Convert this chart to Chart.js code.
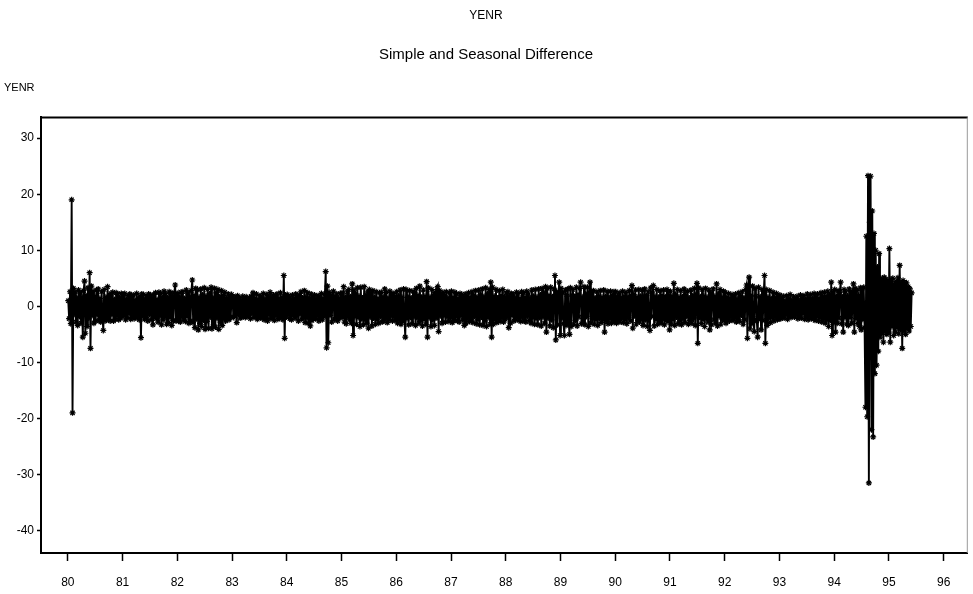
<!DOCTYPE html>
<html>
<head>
<meta charset="utf-8">
<title>YENR</title>
<script src="https://cdn.jsdelivr.net/npm/chart.js@4"></script>
<style>
  html, body { margin: 0; padding: 0; background: #fff; }
  canvas { display: block; }
</style>
</head>
<body>
<canvas id="chart" width="973" height="594"></canvas>
<script>
// labels
const titleText = 'YENR';
const subtitleText = 'Simple and Seasonal Difference';
const yAxisLabel = 'YENR';

// tick labels
const yearTicks = [80, 81, 82, 83, 84, 85, 86, 87, 88, 89, 90, 91, 92, 93, 94, 95, 96];
const valueTicks = [-40, -30, -20, -10, 0, 10, 20, 30];

const y1980 = [1.0, -2.2, 2.6, -3.1, 19.0, -19.0, 3.2, -1.4, 2.6, -2.8, 1.5, -3.4, 2.9, -1.8, 2.4, -3.0,
  1.7, -5.5, 2.8, 4.5, -4.8, 1.9, -3.6, 3.3, -2.1, 6.0, -7.5, 3.6, -1.6, 2.7, -3.0, 1.8,
  -2.6, 2.9, -1.5, 3.1, -2.5, 1.4, -2.8, 2.6, -1.9, -4.3, 3.0, -2.6, 1.6, -2.2, 3.5, -2.4,
  1.9, -2.6, 2.3, -1.5, 2.5, -2.6, 1.2, -2.3, 2.4, -1.7, 2.2, -2.4, 1.5, -2.1, 2.3, -1.8];
const y1981 = [2.1, -1.5, 2.3, -2.4, 1.2, -2.0, 1.9, -1.3, 2.2, -2.3, 1.6, -1.8, 2.0, -2.2, 1.1, -1.9,
  2.3, -2.0, 1.4, -2.4, 1.8, -5.6, 2.2, -1.6, 2.1, -2.3, 1.3, -2.0, 1.9, -2.6, 2.2, -1.4,
  2.0, -2.4, 1.5, -3.3, 2.1, -1.8, 2.4, -2.2, 1.2, -2.8, 2.5, -1.7, 2.3, -3.3, 1.6, -2.4,
  2.7, -1.9, 2.2, -3.2, 1.5, -2.9, 2.6, -2.0, 2.4, -3.4, 1.8, -2.5, 2.4, 3.8, -2.6, 1.9];
const y1982 = [2.3, -2.6, 1.6, -2.8, 2.5, -1.9, 2.6, -2.4, 1.4, -2.7, 2.9, -1.8, 2.4, -3.0, 1.7, -2.6,
  2.8, 4.7, -2.9, 1.9, -3.8, 3.2, -2.2, 2.9, -4.2, 1.6, -3.1, 3.1, -3.6, 2.0, -2.5, 3.3,
  -4.1, 1.8, -2.7, 3.0, -3.9, 2.2, -1.9, 3.4, -4.0, 1.5, -3.3, 3.2, -3.7, 2.4, -2.1, 3.0,
  -4.1, 1.7, -2.8, 2.8, -3.4, 1.9, -2.2, 2.5, -2.6, 1.4, -2.0, 2.2, -2.4, 1.6, -1.9, 2.1];
const y1983 = [1.8, -2.0, 1.2, -1.6, 1.7, -2.9, 1.9, -1.4, 1.5, -2.1, 1.1, -1.9, 1.8, -1.5, 1.3, -2.0,
  1.7, -1.8, 1.0, -1.6, 1.5, -2.2, 1.8, -1.3, 2.4, -2.0, 1.4, -1.7, 2.2, -2.3, 1.2, -1.9,
  1.9, -2.1, 1.5, -1.8, 2.3, -2.4, 1.3, -2.0, 2.1, -2.6, 1.6, -1.5, 2.5, -2.2, 1.4, -2.0,
  2.0, -2.5, 1.7, -1.6, 2.2, -2.3, 1.3, -2.1, 2.4, -1.8, 1.6, -2.4, 5.5, -5.7, 2.0, -1.9];
const y1984 = [2.1, -1.5, 1.8, -2.2, 1.3, -2.4, 2.0, -1.6, 1.4, -2.1, 2.2, -1.7, 1.6, -2.6, 2.0, -1.4,
  2.6, -2.3, 1.5, -1.9, 2.8, -2.9, 1.7, -2.1, 2.4, -3.0, 1.4, -3.5, 2.2, -2.5, 1.6, -2.0,
  2.0, -2.2, 1.2, -1.7, 1.9, -2.6, 1.5, -2.0, 2.3, -2.4, 1.4, -1.8, 2.1, 6.2, -7.4, 3.6,
  -6.5, 2.5, -1.6, 2.0, -2.8, 1.5, 2.7, -2.4, 1.8, -2.0, 2.2, -2.6, 1.4, -2.1, 2.3, -1.7];
const y1985 = [2.4, -2.0, 3.5, -2.8, 1.6, -3.1, 2.6, -1.9, 3.0, -2.4, 1.7, -3.0, 4.0, -5.2, 2.9, -1.8,
  2.2, -3.2, 3.3, -2.0, 1.8, -3.6, 3.4, -2.2, 1.5, -3.3, 3.5, -2.4, 2.0, -3.0, 2.6, -3.9,
  3.0, -1.9, 2.4, -3.5, 2.8, -2.1, 1.6, -3.2, 2.6, -2.3, 1.4, -3.0, 2.4, -1.8, 2.5, -2.8,
  1.7, -2.6, 3.1, -2.1, 2.5, -2.9, 1.5, -2.4, 2.7, -1.7, 2.1, -2.6, 2.3, -1.9, 1.8, -2.5];
const y1986 = [2.6, -3.0, 1.8, -2.4, 2.9, -3.2, 1.6, -2.7, 3.1, -1.9, -5.5, 3.0, -2.2, 1.7, -3.3, 2.8,
  -2.0, 1.5, -3.1, 2.7, -1.8, 2.4, -3.4, 3.2, -2.1, 1.9, -3.0, 3.6, -2.5, 1.6, -3.5, 2.9,
  -2.3, 1.8, -3.2, 4.4, -5.5, 3.3, -2.0, 1.6, -3.6, 3.0, -2.4, 1.9, -3.4, 2.5, -2.1, 3.0,
  3.5, -4.5, 2.8, -1.7, 2.1, -3.0, 2.5, -1.6, 1.9, -2.8, 2.6, -1.9, 1.5, -2.7, 2.4, -2.0];
const y1987 = [2.7, -2.9, 1.6, -2.5, 2.5, -1.8, 2.2, -2.6, 1.4, -2.8, 2.3, -1.7, 2.1, -2.4, 1.5, -3.4,
  2.2, -3.0, 1.8, -2.1, 2.4, -2.7, 1.5, -2.3, 2.6, -2.9, 1.9, -1.8, 2.8, -3.1, 1.6, -2.4,
  2.9, -3.3, 2.0, -1.9, 3.1, -3.4, 1.7, -2.6, 3.3, -3.6, 2.2, -2.0, 3.0, -3.2, 4.3, -5.5,
  3.4, -3.2, 1.8, -2.4, 3.0, -2.9, 1.5, -2.2, 2.8, -2.7, 1.9, -2.1, 3.0, -2.8, 1.6, -2.3];
const y1988 = [2.4, -1.9, 2.6, -3.8, 1.7, -3.0, 2.3, -1.6, 2.2, -2.6, 1.5, -2.4, 2.5, -1.8, 2.3, -2.5,
  1.4, -2.7, 2.6, -1.9, 2.4, -2.6, 1.6, -2.8, 2.7, -1.7, 2.2, -2.5, 1.5, -3.0, 2.9, -2.0,
  1.8, -3.2, 3.0, -2.2, 1.6, -3.3, 3.1, -2.0, 2.0, -3.5, 3.2, -1.9, 2.4, -3.0, 3.5, -4.6,
  3.2, -2.1, 1.9, -3.5, 3.4, -2.4, 1.7, -3.8, 3.1, 5.5, -6.0, 2.6, -3.3, 2.2, 4.3, -5.2];
const y1989 = [3.2, -2.1, 2.4, -3.1, -5.2, 2.9, -3.4, 1.8, 3.1, -2.6, -5.0, 3.3, -3.6, 2.0, 3.0, -3.2,
  1.7, -2.5, 3.4, -3.5, 2.1, -1.9, 3.2, 4.3, -3.1, 1.6, -2.8, 3.5, -3.3, 2.2, -1.8, 3.4,
  -3.6, 1.9, 4.3, -3.0, 2.5, -2.2, 2.8, -3.2, 1.5, -2.4, 2.6, -3.4, 1.8, -2.1, 2.8, -2.9,
  1.6, -2.3, 2.9, -4.6, 1.7, -2.6, 2.7, -3.1, 1.5, -2.2, 2.7, -3.0, 1.9, -2.4, 2.6, -2.8];
const y1990 = [2.6, -3.0, 1.7, -2.4, 2.4, -2.8, 1.5, -2.1, 2.7, -2.9, 1.8, -2.3, 2.5, -3.1, 1.6, -2.0,
  2.8, -2.6, 1.9, 3.7, -3.9, 2.1, -1.7, 2.9, -3.2, 1.6, -2.5, 3.0, -2.8, 1.8, -2.2, 2.9,
  -3.4, 1.5, 3.1, -2.4, 1.9, -3.6, 2.6, -2.0, -4.3, 3.3, -1.8, 2.2, 3.7, -3.5, 1.7, -2.3,
  3.0, -3.2, 1.6, -2.6, 2.8, -3.0, 1.9, -2.2, 2.9, -3.3, 1.7, -2.5, 3.0, -2.7, 2.0, -4.2];
const y1991 = [2.7, -3.2, 1.8, -2.4, 4.1, -3.4, 2.0, -1.9, 3.0, -3.1, 1.6, -2.6, 2.8, -3.3, 1.7, -2.2,
  3.1, -2.9, 2.0, -1.8, 2.7, -3.2, 1.5, -2.5, 2.9, -3.0, 1.9, -2.1, 3.2, -3.4, 2.2, 4.1,
  -6.6, 3.3, -2.0, 1.7, -3.1, 3.0, -2.3, 1.8, -3.6, 3.2, -2.2, 1.6, -2.8, 2.9, -4.2, 2.4,
  -3.3, 1.9, 3.1, -2.4, 1.7, -3.0, 4.0, -3.5, 2.2, -1.8, 3.0, -3.2, 1.6, -2.3, 2.7, -2.5];
const y1992 = [2.5, -3.0, 1.6, -2.2, 2.3, -2.6, 1.4, -1.9, 2.1, -2.5, 1.7, -2.0, 2.2, -2.8, 1.3, -2.3,
  2.4, -2.7, 1.8, -1.6, 2.6, -3.2, 1.5, -2.4, 3.0, 3.8, -5.7, 2.7, 5.2, -4.0, 1.9, -3.1,
  3.6, -2.2, -4.5, 3.2, 1.8, -2.6, -5.5, 3.4, -2.1, 1.7, -4.2, 3.0, -2.5, 2.1, 5.5, -6.6,
  3.0, -3.4, 1.6, -2.1, 2.8, -2.9, 1.4, -2.0, 2.5, -2.6, 1.5, -1.8, 2.3, -2.4, 1.7, -2.2];
const y1993 = [2.0, -2.2, 1.2, -1.6, 1.8, -2.1, 1.0, -1.5, 1.9, -2.3, 1.3, -1.7, 2.1, -2.0, 1.1, -1.4,
  1.7, -1.9, 1.2, -1.5, 1.8, -2.2, 1.0, -1.6, 2.0, -2.1, 1.4, -1.3, 1.9, -2.3, 1.2, -1.8,
  2.2, -2.4, 1.5, -1.7, 2.1, -2.2, 1.3, -1.9, 2.3, -2.5, 1.6, -1.8, 2.2, -2.6, 1.4, -2.0,
  2.4, -2.8, 1.7, -2.2, 2.5, -3.0, 1.8, -2.4, 2.7, -3.6, 2.0, -2.5, 4.3, -5.2, 2.6, -2.9];
const y1994 = [3.0, -4.6, 1.8, -3.0, 2.8, -2.1, 2.5, 4.3, -3.1, 1.7, -4.6, 3.0, -2.0, 2.6, -3.2, 1.8,
  -3.4, 3.1, -2.0, 2.7, -3.0, 1.9, 4.0, -4.6, 3.2, -2.2, 2.8, -3.1, 1.9, -3.6, 3.3, -4.2,
  3.1, -2.3, 3.4, -3.8, -18.0, 12.5, -19.7, 23.3, -31.5, 15.0, 23.2, -22.0, 17.0, -23.3, 13.0, -12.0,
  10.0, -10.5, 7.0, -8.0, 9.4, -5.5, 5.0, -4.8, 4.6, -6.4, 5.2, -4.5, 4.8, -5.0, 4.4, -4.6];
const y1995 = [10.3, -6.4, 4.8, -3.6, 5.0, -5.2, 3.9, -4.6, 4.4, -3.8, 5.1, -4.9, 7.3, -4.1, 4.2, -7.5,
  4.6, -4.4, 3.8, -5.0, 4.2, -3.9, 3.5, -4.4, 3.1, -3.6, 2.4];

const years = [80, 81, 82, 83, 84, 85, 86, 87, 88, 89, 90, 91, 92, 93, 94, 95];
const seriesByYear = [y1980, y1981, y1982, y1983, y1984, y1985, y1986, y1987,
  y1988, y1989, y1990, y1991, y1992, y1993, y1994, y1995];
const obsPerYear = 64;

// put each observation at its date within the year
const points = [];
years.forEach((yr, k) => {
  seriesByYear[k].forEach((v, i) => points.push({ x: yr + (i + 0.5) / obsPerYear, y: v }));
});

const fontFamily = '"Liberation Sans", Arial, sans-serif';

// top border, faint right border and the corner caption
const framePlugin = {
  id: 'frame',
  afterDraw(chart) {
    const { ctx, chartArea: a } = chart;
    ctx.save();
    ctx.strokeStyle = '#000';
    ctx.lineWidth = 2;
    ctx.beginPath();
    ctx.moveTo(a.left - 1, a.top);
    ctx.lineTo(a.right, a.top);
    ctx.stroke();
    ctx.strokeStyle = '#999';
    ctx.lineWidth = 1;
    ctx.beginPath();
    ctx.moveTo(a.right - 0.5, a.top);
    ctx.lineTo(a.right - 0.5, a.bottom);
    ctx.stroke();
    ctx.fillStyle = '#000';
    ctx.font = '11px ' + fontFamily;
    ctx.textBaseline = 'middle';
    ctx.fillText(yAxisLabel, 4, 88);
    ctx.restore();
  }
};

const ctx = document.getElementById('chart').getContext('2d');

const chart = new Chart(ctx, {
  type: 'line',
  data: {
    datasets: [{
      label: 'YENR',
      data: points,
      borderColor: '#000',
      borderWidth: 1.9,
      tension: 0,
      pointStyle: 'star',
      pointRadius: 3,
      pointBorderWidth: 1.2,
      pointBorderColor: '#000',
      pointBackgroundColor: '#000'
    }]
  },
  options: {
    responsive: false,
    animation: false,
    layout: { padding: { left: 0, right: 1, top: 0, bottom: 0 } },
    plugins: {
      legend: { display: false },
      tooltip: { enabled: false },
      title: {
        display: true,
        text: titleText,
        color: '#000',
        font: { family: fontFamily, size: 12, weight: 'normal' },
        padding: { top: 8, bottom: 23 }
      },
      subtitle: {
        display: true,
        text: subtitleText,
        color: '#000',
        font: { family: fontFamily, size: 15, weight: 'normal' },
        padding: { top: 0, bottom: 54 }
      }
    },
    scales: {
      x: {
        type: 'linear',
        min: 79.51,
        max: 96.44,
        afterBuildTicks: s => { s.ticks = yearTicks.map(v => ({ value: v })); },
        afterFit: s => { s.height = 41; },
        grid: { drawOnChartArea: false, color: '#000', tickLength: 8, tickWidth: 1.5 },
        border: { color: '#000', width: 2 },
        ticks: {
          color: '#000',
          font: { family: fontFamily, size: 12 },
          padding: 14,
          autoSkip: false,
          maxRotation: 0,
          callback: v => String(v)
        }
      },
      y: {
        type: 'linear',
        min: -44,
        max: 33.7,
        afterBuildTicks: s => { s.ticks = valueTicks.map(v => ({ value: v })); },
        afterFit: s => { s.width = 41; },
        grid: { drawOnChartArea: false, color: '#000', tickLength: 4, tickWidth: 1.5 },
        border: { color: '#000', width: 2 },
        ticks: {
          color: '#000',
          font: { family: fontFamily, size: 12 },
          padding: 3,
          callback: v => String(v)
        }
      }
    }
  },
  plugins: [framePlugin]
});
</script>
</body>
</html>
